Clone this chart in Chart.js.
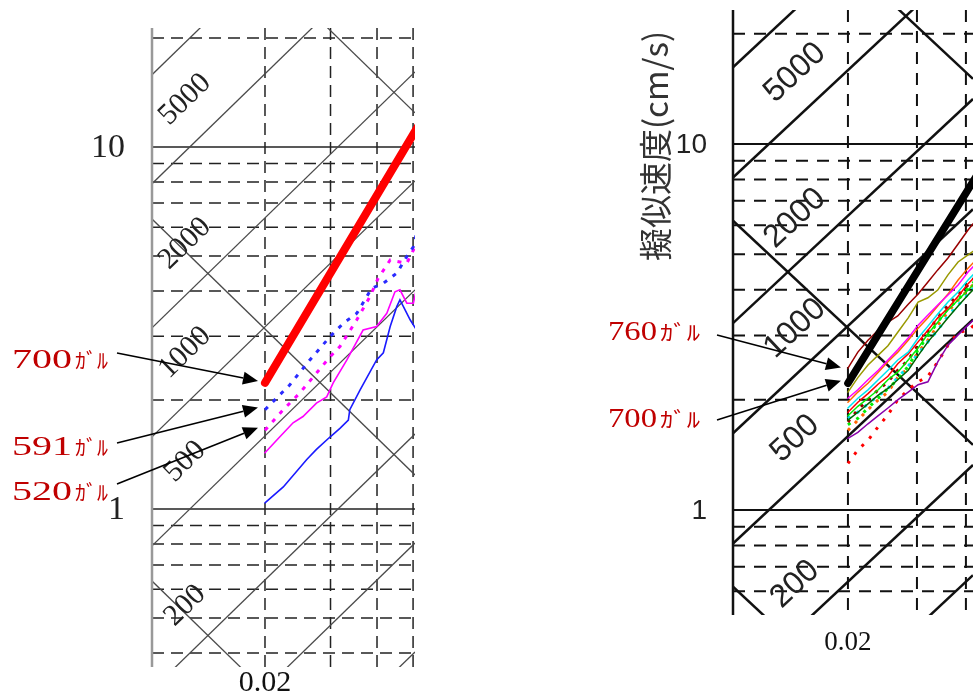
<!DOCTYPE html>
<html>
<head>
<meta charset="utf-8">
<script src="https://cdn.jsdelivr.net/npm/chart.js@4.4.1/dist/chart.umd.min.js"></script>
<style>
    html, body { margin: 0; padding: 0; background: #fff; }
    #wrap { position: relative; width: 973px; height: 693px; overflow: hidden; }
    #wrap canvas { position: absolute; left: 0; top: 0; }
</style>
</head>
<body>
<div id="wrap">
    <canvas id="leftChart" width="973" height="693"></canvas>
    <canvas id="rightChart" width="973" height="693"></canvas>
</div>
<script>
const TWO_PI = 2 * Math.PI;

// ---- tripartite grid values ----
const accelLines = [50, 100, 200, 500, 1000, 2000, 5000, 10000];   // gal
const dispLines = [0.001, 0.01, 0.1];                                 // cm
const accelLabels = [200, 500, 1000, 2000, 5000];
const leftHGrid = [0.4, 0.5, 0.6, 0.7, 0.8, 0.9, 1, 2, 3, 4, 5, 6, 7, 8, 9, 10, 20];
const rightHGrid = [0.6, 0.7, 0.8, 0.9, 1, 2, 3, 4, 5, 6, 7, 8, 9, 10, 20];
const majorH = [1, 10];
const leftVGrid = [0.02, 0.03, 0.04, 0.05];
const rightVGrid = [0.02, 0.03, 0.04];
const yTicks = [1, 10];
const xTicks = [0.02];

// ---- left panel series (period s, pseudo velocity cm/s) ----
const leftSpecT = [0.02, 0.06];
const leftSpecSv = [2.23, 14.8];
const leftBlueDotT = [0.020, 0.0233, 0.0264, 0.0299, 0.0325, 0.0353, 0.0387, 0.0416, 0.0452, 0.0481, 0.0501, 0.0511];
const leftBlueDotSv = [1.88, 2.20, 2.58, 2.99, 3.26, 3.47, 4.07, 4.20, 4.48, 4.98, 5.30, 5.78];
const leftPinkDotT = [0.020, 0.0224, 0.0248, 0.0299, 0.0318, 0.0353, 0.0383, 0.0403, 0.0434, 0.0481, 0.0501, 0.0515];
const leftPinkDotSv = [1.65, 1.88, 2.09, 2.63, 2.81, 3.33, 3.86, 4.34, 4.87, 4.77, 5.19, 5.50];
const leftPinkT = [0.020, 0.0219, 0.0238, 0.0253, 0.0275, 0.0293, 0.0305, 0.0332, 0.0367, 0.0399, 0.0425, 0.0447, 0.0461, 0.0481, 0.0501, 0.0511];
const leftPinkSv = [1.43, 1.58, 1.73, 1.80, 1.96, 2.04, 2.23, 2.58, 3.12, 3.19, 3.47, 3.98, 4.03, 3.70, 3.70, 4.07];
const leftBlueT = [0.020, 0.0224, 0.0259, 0.0275, 0.0299, 0.0318, 0.0335, 0.0338, 0.0360, 0.0399, 0.0416, 0.0434, 0.0452, 0.0461, 0.0471, 0.0491, 0.0511];
const leftBlueSv = [1.04, 1.15, 1.37, 1.46, 1.58, 1.67, 1.76, 1.88, 2.13, 2.58, 2.70, 3.19, 3.62, 3.78, 3.62, 3.33, 3.12];
const leftNoteGal = [700, 591, 520];

// ---- right panel series ----
const rightSpecT = [0.02, 0.06];
const rightSpecSv = [2.22, 14.8];
const rightT = [0.0200, 0.0212, 0.0225, 0.0239, 0.0253, 0.0268, 0.0285, 0.0302, 0.0320, 0.0339, 0.0360, 0.0382, 0.0405, 0.0429];
const maroonSv = [2.44, 2.70, 2.91, 3.10, 3.26, 3.39, 3.65, 3.89, 4.20, 4.53, 4.88, 5.33, 5.82, 6.28];
const oliveSv = [2.10, 2.30, 2.49, 2.65, 2.81, 3.06, 3.35, 3.70, 3.80, 3.99, 4.39, 4.76, 4.98, 5.20];
const magentaSv = [2.02, 2.13, 2.27, 2.41, 2.57, 2.74, 2.95, 3.20, 3.41, 3.63, 3.87, 4.12, 4.47, 4.76];
const orangeSv = [1.97, 2.10, 2.22, 2.38, 2.54, 2.70, 2.91, 3.14, 3.35, 3.61, 3.89, 4.25, 4.58, 4.88];
const cyanSv = [1.90, 2.02, 2.13, 2.27, 2.41, 2.57, 2.70, 2.95, 3.18, 3.43, 3.70, 3.94, 4.25, 4.53];
const redSv = [1.85, 1.97, 2.08, 2.21, 2.32, 2.51, 2.67, 2.88, 3.10, 3.35, 3.56, 3.84, 4.15, 4.41];
const greenSv = [1.81, 1.92, 2.02, 2.13, 2.27, 2.38, 2.57, 2.77, 3.03, 3.26, 3.52, 3.75, 3.99, 4.25];
const darkGreenSv = [1.76, 1.85, 1.95, 2.06, 2.15, 2.27, 2.41, 2.64, 2.88, 3.10, 3.35, 3.61, 3.87, 4.12];
const purpleSv = [1.57, 1.63, 1.72, 1.81, 1.90, 2.00, 2.10, 2.20, 2.24, 2.54, 2.82, 3.01, 3.20, 3.39];
const maroonDotSv = [1.74, 1.88, 2.00, 2.13, 2.24, 2.41, 2.57, 2.82, 3.07, 3.35, 3.63, 3.87, 4.12, 4.41];
const cyanDotSv = [1.78, 1.85, 1.95, 2.05, 2.15, 2.30, 2.47, 2.67, 2.88, 3.10, 3.39, 3.63, 3.89, 4.15];
const greenDotSv = [1.71, 1.78, 1.90, 2.02, 2.15, 2.27, 2.47, 2.74, 2.99, 3.26, 3.56, 3.75, 4.04, 4.30];
const orangeDotSv = [1.65, 1.76, 1.88, 2.00, 2.10, 2.30, 2.44, 2.70, 2.91, 3.20, 3.48, 3.75, 3.99, 4.25];
const redDotSv = [1.34, 1.46, 1.55, 1.69, 1.82, 2.00, 2.13, 2.24, 2.32, 2.54, 2.82, 3.05, 3.10, 3.26];
const rightNoteGal = [760, 700];

function pts(ts, vs) {
    return ts.map((t, i) => ({ x: t, y: vs[i] }));
}

function series(ts, vs, color, width, dash) {
    return {
        data: pts(ts, vs),
        borderColor: color,
        borderWidth: width,
        borderDash: dash || [],
        borderCapStyle: dash ? 'butt' : 'round',
        pointRadius: 0,
        tension: 0,
        fill: false,
        clip: 0
    };
}

function drawFit(ctx, text, left, cy, font, width, color) {
    ctx.save();
    ctx.font = font;
    ctx.fillStyle = color;
    ctx.textAlign = 'left';
    ctx.textBaseline = 'middle';
    const w = ctx.measureText(text).width;
    ctx.translate(left, cy);
    ctx.scale(width / w, 1);
    ctx.fillText(text, 0, 0);
    ctx.restore();
}

function arrow(ctx, x0, y0, x1, y1) {
    const ang = Math.atan2(y1 - y0, x1 - x0);
    const hl = 15, hw = 6.5;
    const bx = x1 - hl * Math.cos(ang), by = y1 - hl * Math.sin(ang);
    ctx.save();
    ctx.strokeStyle = '#000';
    ctx.fillStyle = '#000';
    ctx.lineWidth = 1.6;
    ctx.beginPath();
    ctx.moveTo(x0, y0);
    ctx.lineTo(bx, by);
    ctx.stroke();
    ctx.beginPath();
    ctx.moveTo(x1, y1);
    ctx.lineTo(bx + hw * Math.sin(ang), by - hw * Math.cos(ang));
    ctx.lineTo(bx - hw * Math.sin(ang), by + hw * Math.cos(ang));
    ctx.closePath();
    ctx.fill();
    ctx.restore();
}

function tripartite(cfg) {
    return {
        id: 'tripartite',
        beforeDatasetsDraw(chart) {
            const { ctx, chartArea: a } = chart;
            const x = chart.scales.x, y = chart.scales.y;
            ctx.save();
            ctx.beginPath();
            ctx.rect(a.left, a.top, a.right - a.left, a.bottom - a.top);
            ctx.clip();

            // horizontal and vertical grid
            ctx.strokeStyle = cfg.gridColor;
            ctx.lineWidth = cfg.gridWidth;
            cfg.hGrid.forEach(v => {
                const py = y.getPixelForValue(v);
                ctx.setLineDash(majorH.includes(v) ? [] : cfg.dash);
                ctx.beginPath();
                ctx.moveTo(a.left, py);
                ctx.lineTo(a.right, py);
                ctx.stroke();
            });
            ctx.setLineDash(cfg.dash);
            cfg.vGrid.forEach(v => {
                const px = x.getPixelForValue(v);
                ctx.beginPath();
                ctx.moveTo(px, a.top);
                ctx.lineTo(px, a.bottom);
                ctx.stroke();
            });

            // constant acceleration / displacement lines
            ctx.setLineDash([]);
            ctx.strokeStyle = cfg.diagColor;
            ctx.lineWidth = cfg.diagWidth;
            const t0 = x.min, t1 = x.max;
            const seg = f => {
                ctx.beginPath();
                ctx.moveTo(x.getPixelForValue(t0), y.getPixelForValue(f(t0)));
                ctx.lineTo(x.getPixelForValue(t1), y.getPixelForValue(f(t1)));
                ctx.stroke();
            };
            accelLines.forEach(A => seg(t => A * t / TWO_PI));
            dispLines.forEach(d => seg(t => TWO_PI * d / t));
            ctx.restore();

            // left border
            ctx.save();
            ctx.strokeStyle = cfg.axisColor;
            ctx.lineWidth = cfg.axisWidth;
            ctx.beginPath();
            ctx.moveTo(a.left, a.top);
            ctx.lineTo(a.left, a.bottom);
            ctx.stroke();

            // acceleration labels
            ctx.fillStyle = '#222';
            ctx.font = cfg.labelFont;
            ctx.textAlign = 'center';
            ctx.textBaseline = 'middle';
            accelLabels.forEach(A => {
                const t = cfg.labelT;
                const px = x.getPixelForValue(t), py = y.getPixelForValue(A * t / TWO_PI);
                const qx = x.getPixelForValue(t * 2), qy = y.getPixelForValue(A * t * 2 / TWO_PI);
                ctx.save();
                ctx.translate(px, py - cfg.labelOffset);
                ctx.rotate(Math.atan2(qy - py, qx - px));
                ctx.fillText(String(A), 0, 0);
                ctx.restore();
            });
            ctx.restore();
        },
        afterDraw(chart) {
            const { ctx, chartArea: a } = chart;
            const x = chart.scales.x, y = chart.scales.y;
            ctx.save();
            ctx.fillStyle = '#222';
            ctx.font = cfg.yTickFont;
            ctx.textAlign = 'right';
            ctx.textBaseline = 'middle';
            yTicks.forEach(v => ctx.fillText(String(v), a.left - cfg.yTickGap, y.getPixelForValue(v) + 1));
            ctx.font = cfg.xTickFont;
            ctx.fillStyle = '#111';
            ctx.textAlign = 'center';
            xTicks.forEach(v => ctx.fillText(String(v), x.getPixelForValue(v), a.bottom + cfg.xTickGap));

            if (cfg.title) {
                ctx.save();
                ctx.translate(cfg.title.x, cfg.title.y);
                ctx.rotate(-Math.PI / 2);
                ctx.font = cfg.title.font;
                ctx.fillStyle = '#333';
                ctx.textAlign = 'center';
                ctx.textBaseline = 'middle';
                ctx.fillText(cfg.title.text, 0, 0);
                ctx.restore();
            }
            ctx.restore();

            // gal notes with arrows
            const tipX = x.getPixelForValue(0.02) - 7;
            cfg.noteGal.forEach((g, i) => {
                const n = cfg.notes[i];
                drawFit(ctx, String(g), n.left, n.textY, '27px "Liberation Serif"', n.numW, '#c00000');
                drawFit(ctx, 'ｶﾞﾙ', n.left + n.numW + 3, n.textY - 1, '21px "Noto Sans CJK JP"', n.kanaW, '#c00000');
                arrow(ctx, n.tailX, n.tailY, tipX, y.getPixelForValue(g * 0.02 / TWO_PI) - 2);
            });
        }
    };
}

const logScale = (min, max) => ({ type: 'logarithmic', display: false, min: min, max: max });

new Chart(document.getElementById('leftChart'), {
    type: 'line',
    data: {
        datasets: [
            series(leftSpecT, leftSpecSv, '#ff0000', 8),
            series(leftBlueDotT, leftBlueDotSv, '#2a2aff', 3, [4, 7]),
            series(leftPinkDotT, leftPinkDotSv, '#ff00ff', 3, [4, 7]),
            series(leftPinkT, leftPinkSv, '#ff00ff', 1.6),
            series(leftBlueT, leftBlueSv, '#1a1aff', 1.6)
        ]
    },
    options: {
        responsive: false,
        animation: false,
        devicePixelRatio: 1,
        layout: { padding: { left: 152, top: 28, right: 558, bottom: 26 } },
        scales: { x: logScale(0.00994, 0.0506), y: logScale(0.366, 21.3) },
        plugins: { legend: { display: false }, tooltip: { enabled: false } }
    },
    plugins: [tripartite({
        hGrid: leftHGrid, vGrid: leftVGrid,
        gridColor: '#222', gridWidth: 1.5, dash: [12, 7],
        diagColor: '#4a4a4a', diagWidth: 1.3,
        axisColor: '#999', axisWidth: 2.5,
        labelFont: '30px "Liberation Serif"', labelT: 0.0122, labelOffset: 52,
        yTickFont: '34px "Liberation Serif"', yTickGap: 27,
        xTickFont: '30px "Liberation Serif"', xTickGap: 16,
        noteGal: leftNoteGal,
        notes: [
            { left: 12, textY: 361, numW: 60, kanaW: 33, tailX: 117, tailY: 353 },
            { left: 12, textY: 448, numW: 60, kanaW: 33, tailX: 117, tailY: 443 },
            { left: 12, textY: 493, numW: 60, kanaW: 33, tailX: 117, tailY: 484 }
        ]
    })]
});

new Chart(document.getElementById('rightChart'), {
    type: 'line',
    data: {
        datasets: [
            series(rightSpecT, rightSpecSv, '#000000', 7.5),
            series(rightT, maroonSv, '#990000', 1.5),
            series(rightT, oliveSv, '#999900', 1.5),
            series(rightT, magentaSv, '#ff00ff', 1.5),
            series(rightT, orangeSv, '#ff6600', 1.5),
            series(rightT, cyanSv, '#00e5ee', 1.5),
            series(rightT, redSv, '#ff0000', 1.5),
            series(rightT, greenSv, '#00ee00', 1.5),
            series(rightT, darkGreenSv, '#006600', 1.5),
            series(rightT, purpleSv, '#8800aa', 1.5),
            series(rightT, maroonDotSv, '#990000', 3, [3, 7]),
            series(rightT, cyanDotSv, '#00e5ee', 3, [3, 7]),
            series(rightT, greenDotSv, '#00ee00', 3, [3, 7]),
            series(rightT, orangeDotSv, '#ff6600', 3, [3, 7]),
            series(rightT, redDotSv, '#ff0000', 3, [3, 8])
        ]
    },
    options: {
        responsive: false,
        animation: false,
        devicePixelRatio: 1,
        layout: { padding: { left: 733, top: 10, right: 0, bottom: 78 } },
        scales: { x: logScale(0.01018, 0.0417), y: logScale(0.5165, 23.24) },
        plugins: { legend: { display: false }, tooltip: { enabled: false } }
    },
    plugins: [tripartite({
        hGrid: rightHGrid, vGrid: rightVGrid,
        gridColor: '#111', gridWidth: 2, dash: [12, 9],
        diagColor: '#111', diagWidth: 2.5,
        axisColor: '#111', axisWidth: 2.5,
        labelFont: '32px "Liberation Sans"', labelT: 0.01465, labelOffset: 47,
        yTickFont: '28px "Liberation Sans"', yTickGap: 26,
        xTickFont: '27px "Liberation Serif"', xTickGap: 28,
        title: { text: '擬似速度(cm/s)', x: 655, y: 146, font: '33px "Noto Sans CJK JP"' },
        noteGal: rightNoteGal,
        notes: [
            { left: 608, textY: 333, numW: 49, kanaW: 40, tailX: 717, tailY: 335 },
            { left: 608, textY: 420, numW: 49, kanaW: 40, tailX: 717, tailY: 420 }
        ]
    })]
});
</script>
</body>
</html>
